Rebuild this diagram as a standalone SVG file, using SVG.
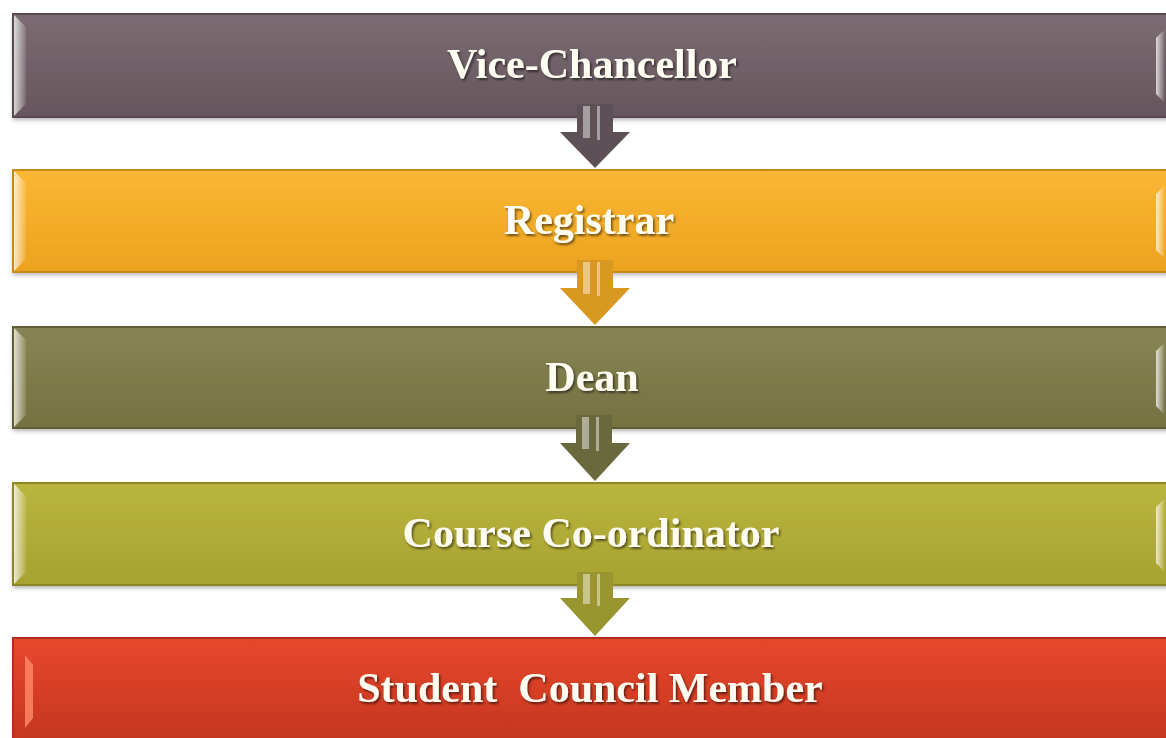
<svg xmlns="http://www.w3.org/2000/svg" width="1166" height="738" viewBox="0 0 1166 738">
<defs>
  <linearGradient id="g1" x1="0" y1="0" x2="0" y2="1"><stop offset="0" stop-color="#7b6b72"/><stop offset="1" stop-color="#65565d"/></linearGradient>
  <linearGradient id="g2" x1="0" y1="0" x2="0" y2="1"><stop offset="0" stop-color="#fab733"/><stop offset="1" stop-color="#eca21f"/></linearGradient>
  <linearGradient id="g3" x1="0" y1="0" x2="0" y2="1"><stop offset="0" stop-color="#878554"/><stop offset="1" stop-color="#747241"/></linearGradient>
  <linearGradient id="g4" x1="0" y1="0" x2="0" y2="1"><stop offset="0" stop-color="#bab53e"/><stop offset="1" stop-color="#a8a231"/></linearGradient>
  <linearGradient id="g5" x1="0" y1="0" x2="0" y2="1"><stop offset="0" stop-color="#e7482b"/><stop offset="1" stop-color="#c2341f"/></linearGradient>
  <linearGradient id="bev" x1="0" y1="0" x2="1" y2="0"><stop offset="0" stop-color="#ffffff" stop-opacity="0.75"/><stop offset="1" stop-color="#ffffff" stop-opacity="0.1"/></linearGradient>
  <filter id="ts" x="-5%" y="-20%" width="110%" height="150%"><feDropShadow dx="1.5" dy="2" stdDeviation="1" flood-color="#000" flood-opacity="0.55"/></filter>
  <filter id="bs" x="-2%" y="-10%" width="104%" height="130%"><feDropShadow dx="0" dy="3" stdDeviation="2" flood-color="#000" flood-opacity="0.3"/></filter>
</defs>
<style>
  .lbl { font-family: "Liberation Serif", "Times New Roman", serif; font-weight: bold; font-size: 42px; text-anchor: middle; fill: #fffdf2; white-space: pre; }
  .edge { fill: none; stroke-width: 2; }
  .bev { fill: url(#bev); }
  .hl { fill: #ffffff; opacity: 0.45; }
</style>
<rect width="1166" height="738" fill="#ffffff"/>

<g id="vc">
  <rect x="13" y="14" width="1160" height="103" fill="url(#g1)" filter="url(#bs)"/>
  <rect x="13" y="14" width="1160" height="103" class="edge" stroke="#57494f"/>
  <polygon points="14,15 26,27 26,104 14,116" class="bev"/>
  <polygon points="1164,30 1156,38 1156,94 1164,102" class="bev"/>
  <text x="592" y="78" class="lbl" filter="url(#ts)">Vice-Chancellor</text>
</g>
<g id="registrar">
  <rect x="13" y="170" width="1160" height="102" fill="url(#g2)" filter="url(#bs)"/>
  <rect x="13" y="170" width="1160" height="102" class="edge" stroke="#c88a1c"/>
  <polygon points="14,171 26,183 26,259 14,271" class="bev"/>
  <polygon points="1164,186 1156,194 1156,250 1164,258" class="bev"/>
  <text x="589" y="234" class="lbl" filter="url(#ts)">Registrar</text>
</g>
<g id="dean">
  <rect x="13" y="327" width="1160" height="101" fill="url(#g3)" filter="url(#bs)"/>
  <rect x="13" y="327" width="1160" height="101" class="edge" stroke="#5f5d35"/>
  <polygon points="14,328 26,340 26,415 14,427" class="bev"/>
  <polygon points="1164,343 1156,351 1156,406 1164,414" class="bev"/>
  <text x="592" y="391" class="lbl" filter="url(#ts)">Dean</text>
</g>
<g id="coordinator">
  <rect x="13" y="483" width="1160" height="102" fill="url(#g4)" filter="url(#bs)"/>
  <rect x="13" y="483" width="1160" height="102" class="edge" stroke="#8c8727"/>
  <polygon points="14,484 26,496 26,572 14,584" class="bev"/>
  <polygon points="1164,499 1156,507 1156,563 1164,571" class="bev"/>
  <text x="591" y="547" class="lbl" filter="url(#ts)">Course Co-ordinator</text>
</g>
<g id="student">
  <rect x="13" y="638" width="1160" height="110" fill="url(#g5)"/>
  <rect x="13" y="638" width="1160" height="110" class="edge" stroke="#b0301c"/>
  <polygon points="25,655 33,665 33,718 25,728" fill="#ff8a6a" opacity="0.8"/>
  <text x="590" y="702" class="lbl" filter="url(#ts)" xml:space="preserve">Student  Council Member</text>
</g>

<g id="connectors">
  <g id="a1">
    <polygon points="577,104 613,104 613,132 630,132 595,168 560,132 577,132" fill="#5e5057"/>
    <rect x="583" y="106" width="7" height="32" class="hl"/><rect x="597" y="106" width="3" height="34" class="hl"/>
  </g>
  <g id="a2">
    <polygon points="577,260 613,260 613,288 630,288 595,325 560,288 577,288" fill="#d9981f"/>
    <rect x="583" y="262" width="7" height="32" class="hl"/><rect x="597" y="262" width="3" height="34" class="hl"/>
  </g>
  <g id="a3">
    <polygon points="576,415 612,415 612,443 630,443 595,481 560,443 576,443" fill="#6a683d"/>
    <rect x="582" y="417" width="7" height="32" class="hl"/><rect x="596" y="417" width="3" height="34" class="hl"/>
  </g>
  <g id="a4">
    <polygon points="577,572 613,572 613,598 630,598 595,636 560,598 577,598" fill="#9a962f"/>
    <rect x="583" y="574" width="7" height="30" class="hl"/><rect x="597" y="574" width="3" height="32" class="hl"/>
  </g>
</g>
</svg>
